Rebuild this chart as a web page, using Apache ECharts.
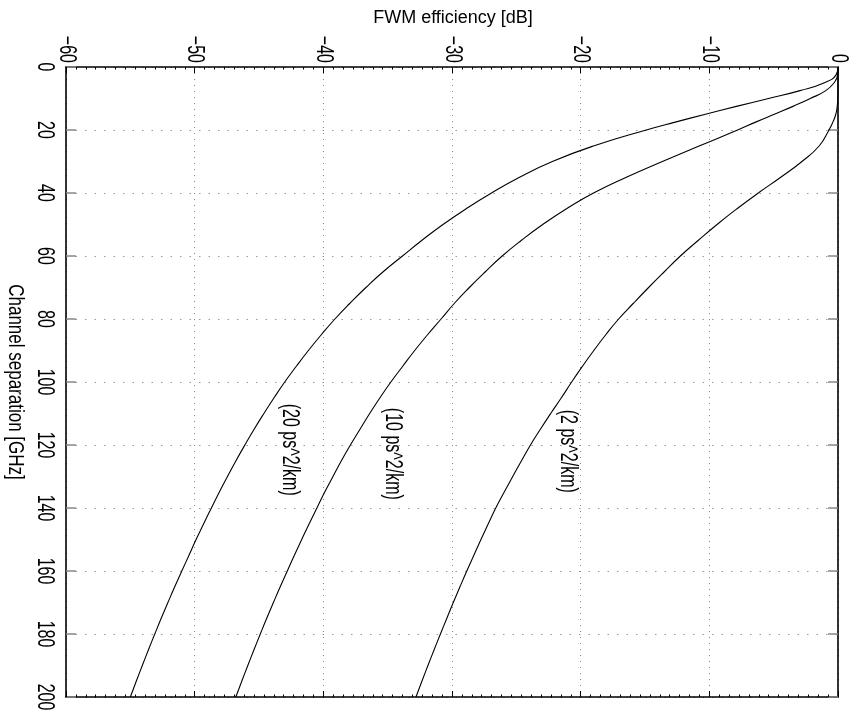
<!DOCTYPE html>
<html><head><meta charset="utf-8">
<script src="https://cdn.jsdelivr.net/npm/echarts@6/dist/echarts.min.js"></script>
<style>html,body{margin:0;padding:0;background:#fff}#c{width:855px;height:715px}</style>
</head><body><div id="c"></div>
<script>
// Channel separation [GHz]
const channels = [0, 2.5, 5, 7.5, 10, 12.5, 15, 17.5, 20, 25, 30, 35, 40, 45, 50, 55, 60, 65, 70, 75, 80, 85, 90, 95, 100,
  105, 110, 115, 120, 125, 130, 135, 140, 145, 150, 155, 160, 165, 170, 175, 180, 185, 190, 195, 200];
// FWM efficiency [dB], 20 ps^2/km
const eta20 = [0, -0.15, -1.05, -2.95, -5.4, -7.9, -10.3, -12.65, -14.9, -18.95, -22.2, -24.75, -26.93, -28.9, -30.7, -32.33, -33.85,
  -35.35, -36.69, -37.93, -39.1, -40.16, -41.16, -42.1, -43.0, -43.83, -44.62, -45.38, -46.1, -46.79, -47.45, -48.09, -48.7,
  -49.3, -49.89, -50.44, -51.0, -51.55, -52.08, -52.6, -53.1, -53.59, -54.07, -54.54, -55.0];
// FWM efficiency [dB], 10 ps^2/km
const eta10 = [0, -0.03, -0.3, -0.95, -2.15, -3.5, -4.95, -6.4, -7.8, -10.75, -13.65, -16.45, -19.0, -21.1, -22.95, -24.6, -26.1,
  -27.41, -28.65, -29.81, -30.85, -31.9, -32.9, -33.83, -34.75, -35.6, -36.4, -37.15, -37.9, -38.6, -39.25, -39.9, -40.5,
  -41.1, -41.68, -42.25, -42.8, -43.35, -43.88, -44.4, -44.9, -45.39, -45.87, -46.34, -46.8];
// FWM efficiency [dB], 2 ps^2/km
const eta2 = [0, 0, 0, 0, -0.02, -0.06, -0.17, -0.4, -0.7, -1.45, -2.8, -4.45, -6.2, -7.85, -9.4, -10.85, -12.25,
  -13.5, -14.72, -15.9, -17.05, -18.05, -18.98, -19.86, -20.7, -21.5, -22.33, -23.13, -23.9, -24.6, -25.28, -25.95, -26.6,
  -27.18, -27.75, -28.3, -28.85, -29.38, -29.9, -30.4, -30.9, -31.39, -31.87, -32.34, -32.8];
// tick labels
const dbTicks = [-60, -50, -40, -30, -20, -10, 0];
const chTicks = [0, 20, 40, 60, 80, 100, 120, 140, 160, 180, 200];
// curve annotations (anchor in data coordinates)
const curveLabels = ['(20 ps^2/km)', '(10 ps^2/km)', '(2 ps^2/km)'];
const curveLabelDb = [-42.6, -34.65, -21.0];
const curveLabelCh = [121.5, 122.8, 122];
const xName = 'FWM efficiency [dB]';
const yName = 'Channel separation [GHz]';

const FONT = '"Liberation Sans", Arial, Helvetica, sans-serif';
const chart = echarts.init(document.getElementById('c'), null, {renderer: 'canvas'});

function pts(vals) { return channels.map((c, i) => [vals[i], c]); }
function line(name, vals) {
  return {
    name, type: 'line', xAxisIndex: 0, yAxisIndex: 0, data: pts(vals),
    symbol: 'none', showSymbol: false, smooth: 0.5, silent: true,
    lineStyle: {color: '#000', width: 1.1}
  };
}
const frame = {show: true, onZero: false, lineStyle: {color: '#000', width: 1.6}};
const xCommon = {
  type: 'value', min: -60, max: 0, interval: 10,
  axisLine: frame,
  axisTick: {show: true, inside: true, length: 6, lineStyle: {color: '#000', width: 1}},
  minorTick: {show: true, splitNumber: 13, length: 2.5, lineStyle: {color: '#000', width: 1}},
  axisLabel: {show: false}
};
const yCommon = {
  type: 'value', inverse: true, min: 0, max: 200, interval: 20,
  axisLine: frame,
  axisTick: {show: true, inside: true, length: 10, lineStyle: {color: '#888', width: 1.5}},
  axisLabel: {show: false}
};
const option = {
  animation: false,
  backgroundColor: '#fff',
  grid: {left: 66, right: 17, top: 67, bottom: 18, containLabel: false},
  xAxis: [
    Object.assign({}, xCommon, {position: 'top',
      splitLine: {show: true, lineStyle: {color: '#888', type: [1, 5], width: 1}}}),
    Object.assign({}, xCommon, {position: 'bottom', splitLine: {show: false}})
  ],
  yAxis: [
    Object.assign({}, yCommon, {position: 'left',
      splitLine: {show: true, lineStyle: {color: '#999', type: [1.5, 8], width: 1}}}),
    Object.assign({}, yCommon, {position: 'right', splitLine: {show: false}})
  ],
  series: [line('20', eta20), line('10', eta10), line('2', eta2)]
};
chart.setOption(option);

function fmt(v) { return v < 0 ? '\u2212' + Math.abs(v) : String(v); }
const els = [];
dbTicks.forEach(v => {
  const px = chart.convertToPixel({xAxisIndex: 0}, v);
  els.push({type: 'text', x: px, y: 63, rotation: -Math.PI / 2, scaleY: 1.45, silent: true,
    style: {text: fmt(v), fontSize: 16, fontFamily: FONT, fill: '#000', align: 'right', verticalAlign: 'middle'}});
});
chTicks.forEach(v => {
  const py = chart.convertToPixel({yAxisIndex: 0}, v);
  els.push({type: 'text', x: 44, y: py, rotation: -Math.PI / 2, scaleY: 1.45, silent: true,
    style: {text: fmt(v), fontSize: 16, fontFamily: FONT, fill: '#000', align: 'center', verticalAlign: 'middle'}});
});
curveLabels.forEach((t, i) => {
  const p = chart.convertToPixel({xAxisIndex: 0, yAxisIndex: 0}, [curveLabelDb[i], curveLabelCh[i]]);
  els.push({type: 'text', x: p[0], y: p[1], rotation: -Math.PI / 2, scaleY: 1.45, silent: true,
    style: {text: t, fontSize: 16, fontFamily: FONT, fill: '#000', align: 'center', verticalAlign: 'middle'}});
});
els.push({type: 'text', x: 453, y: 18, silent: true,
  style: {text: xName, fontSize: 18, fontFamily: FONT, fill: '#000', align: 'center', verticalAlign: 'middle'}});
els.push({type: 'text', x: 15, y: 382, rotation: -Math.PI / 2, scaleY: 1.25, silent: true,
  style: {text: yName, fontSize: 17, fontFamily: FONT, fill: '#000', align: 'center', verticalAlign: 'middle'}});
chart.setOption({graphic: {elements: els}});
</script>
</body></html>
